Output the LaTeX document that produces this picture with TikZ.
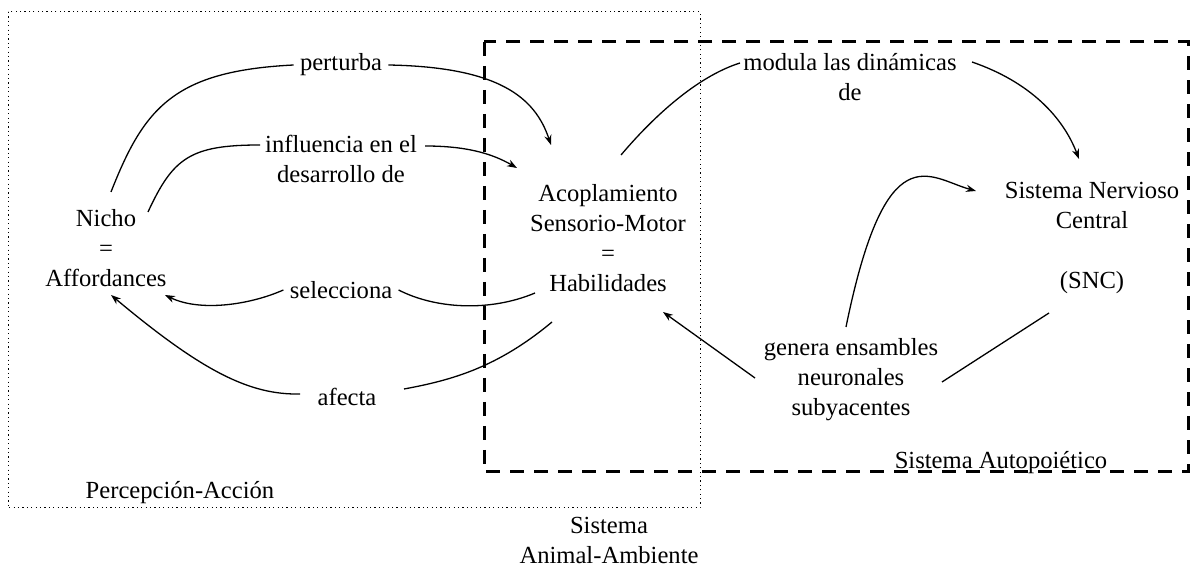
\documentclass[tikz,border=0pt]{standalone}
\usepackage{fontspec}
\setmainfont{Liberation Serif}
\usetikzlibrary{arrows.meta}

\begin{document}
\begin{tikzpicture}[
        x=0.5pt, y=0.5pt,
        every node/.style={font=\fontsize{12.3}{15}\selectfont, align=center, inner sep=3pt},
        link/.style={line width=0.65pt},
        rel/.style={link, -{Stealth[length=5pt, width=3.6pt]}},
        dotbox/.style={line width=0.5pt, dash pattern=on 0.6pt off 1.6pt},
        dashbox/.style={line width=1.5pt, dash pattern=on 7pt off 5pt}
    ]
            \useasboundingbox (0, 0) rectangle (1194, 567);
            \draw[dotbox] (8, 555) rectangle (700, 59);
            \draw[dashbox] (484, 525) rectangle (1188, 95);

            \node (nicho) at (106, 319) {Nicho\\=\\Affordances};
            \node (acop) at (608, 329) {Acoplamiento\\Sensorio-Motor\\=\\Habilidades};
            \node (snc) at (1092, 329) {Sistema Nervioso\\Central\\[15pt](SNC)};
            \node (genera) at (851, 187) {genera ensambles\\neuronales\\subyacentes};

            \node (perturba) at (341, 502) {perturba};
            \node (influ) at (341, 408) {influencia en el\\desarrollo de};
            \node (selec) at (341, 277) {selecciona};
            \node (afecta) at (347, 170) {afecta};
            \node (modula) at (850, 490) {modula las dinámicas\\de};

            \node (percep) at (180, 74) {Percepción-Acción};
            \node (animal) at (609, 27) {Sistema\\Animal-Ambiente};
            \node (auto) at (1001, 104) {Sistema Autopoiético};

            \draw[link] ([shift={(5,56)}]nicho.center) .. controls +(33,84) and +(-120,-6) .. (perturba.west);
            \draw[rel] (perturba.east) .. controls +(110,-2) and +(-16,48) .. ([shift={(-57,93)}]acop.center);
            \draw[link] ([shift={(42,36)}]nicho.center) .. controls +(25,54) and +(-70,0) .. ([shift={(-81,14)}]influ.center);
            \draw[rel] ([shift={(84,13)}]influ.center) .. controls +(40,0) and +(-26,15) .. ([shift={(-91,70)}]acop.center);
            \draw[link] ([shift={(-73,-55)}]acop.center) .. controls +(-45,-19) and +(37,-19) .. (selec.east);
            \draw[rel] (selec.west) .. controls +(-34,-15) and +(35,-17) .. ([shift={(59,-47)}]nicho.center);
            \draw[link] ([shift={(-56,-84)}]acop.center) .. controls +(-54,-45) and +(49,9) .. ([shift={(57,8)}]afecta.center);
            \draw[rel] ([shift={(-47,3)}]afecta.center) .. controls +(-50,-1) and +(92,-77) .. ([shift={(5,-47)}]nicho.center);
            \draw[link] ([shift={(13,83)}]acop.center) .. controls +(39,46) and +(-38,-12) .. ([shift={(-110,14)}]modula.center);
            \draw[rel] ([shift={(122,15)}]modula.center) .. controls +(58,-20) and +(-16,42) .. ([shift={(-13,79)}]snc.center);
            \draw[rel] ([shift={(-5,53)}]genera.center) .. controls +(40,196) and +(-47,13) .. ([shift={(-116,47)}]snc.center);
            \draw[rel] ([shift={(-96,2)}]genera.center) -- ([shift={(55,-74)}]acop.center);
            \draw[link] ([shift={(91,-2)}]genera.center) -- ([shift={(-43,-75)}]snc.center);
        \end{tikzpicture}
\end{document}
